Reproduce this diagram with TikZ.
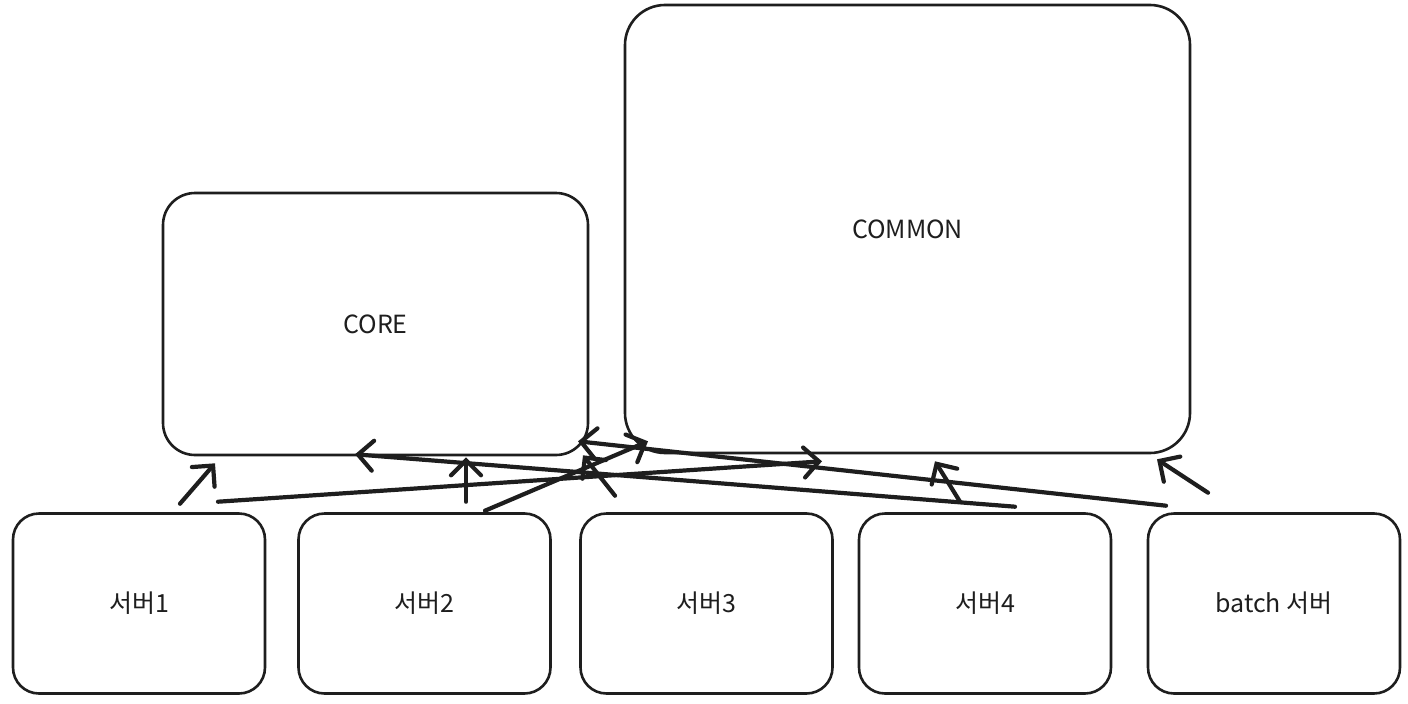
\documentclass[tikz,border=0pt]{standalone}
\usepackage{fontspec}
\setmainfont{Noto Sans CJK KR}
\usepackage{xcolor}
\usetikzlibrary{arrows.meta,positioning}

\definecolor{ink}{HTML}{1E1E1E}

\begin{document}
\begin{tikzpicture}[
    x=1pt, y=-1pt,
    box/.style={
        rectangle,
        rounded corners=26pt,
        draw=ink,
        line width=2.6pt,
        align=center,
        text=ink,
        font=\fontsize{25}{29}\selectfont
    },
    server/.style={box, minimum width=252pt, minimum height=180pt},
    arrow/.style={-{Straight Barb[length=15pt,width=30pt,line cap=round]}, draw=ink, line width=4.2pt, line cap=round}
]
\useasboundingbox (0,0) rectangle (1408,704);

% Modules
\node[box, minimum width=425pt, minimum height=262pt, rounded corners=32pt] (core) at (375.5, 324) {CORE};
\node[box, minimum width=565pt, minimum height=448pt, rounded corners=40pt] (common) at (907.5, 229) {COMMON};

% Servers
\node[server] (s1) at (139, 603.5) {서버1};
\node[server] (s2) at (424.5, 603.5) {서버2};
\node[server] (s3) at (706.5, 603.5) {서버3};
\node[server] (s4) at (985, 603.5) {서버4};
\node[server] (batch) at (1274, 603.5) {batch 서버};

% Dependencies on core
\draw[arrow] ([xshift=41pt,yshift=8.5pt]s1.north) -- ([xshift=-160.5pt,yshift=-7pt]core.south);
\draw[arrow] ([xshift=41.5pt,yshift=10.5pt]s2.north) -- ([xshift=90.5pt,yshift=-1pt]core.south);
\draw[arrow] ([xshift=-91.5pt,yshift=16.5pt]s3.north) -- ([xshift=207.5pt,yshift=1pt]core.south);
\draw[arrow] ([xshift=30pt,yshift=5.5pt]s4.north) -- ([xshift=-20.5pt,yshift=2pt]core.south);
\draw[arrow] ([xshift=-108pt,yshift=6.5pt]batch.north) -- ([xshift=202.5pt,yshift=15pt]core.south);

% Dependencies on common
\draw[arrow] ([xshift=79pt,yshift=10.5pt]s1.north) -- ([xshift=-85.5pt,yshift=-7pt]common.south);
\draw[arrow] ([xshift=60.5pt,yshift=1.5pt]s2.north) -- ([xshift=-259.5pt,yshift=13pt]common.south);
\draw[arrow] ([xshift=-25pt,yshift=10.5pt]s4.north) -- ([xshift=27.5pt,yshift=-7pt]common.south);
\draw[arrow] ([xshift=-66pt,yshift=19.5pt]batch.north) -- ([xshift=249.5pt,yshift=-5pt]common.south);

\end{tikzpicture}
\end{document}
